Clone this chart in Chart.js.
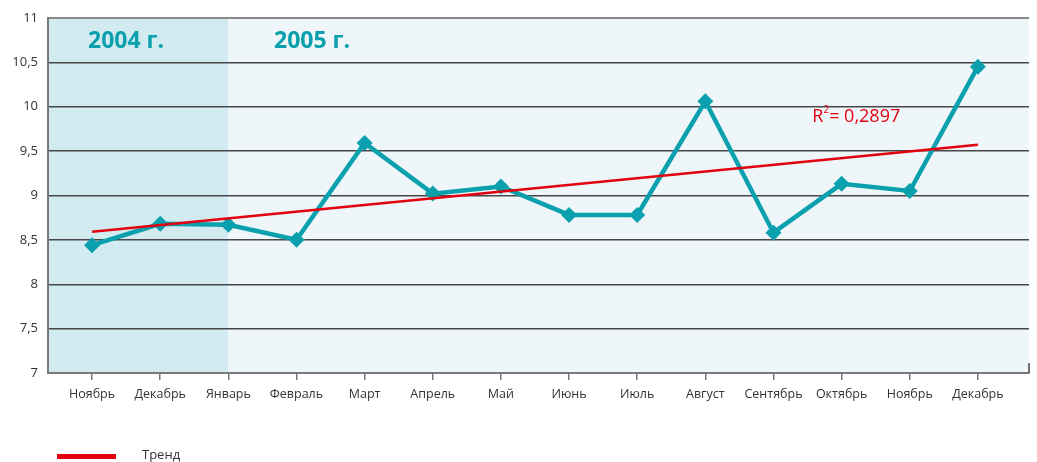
<!DOCTYPE html>
<html>
<head>
<meta charset="utf-8">
<script src="https://cdn.jsdelivr.net/npm/chart.js@4/dist/chart.umd.min.js"></script>
<style>
  html, body { margin: 0; padding: 0; background: #ffffff; }
  #wrap { width: 1037px; height: 462px; position: relative; }
</style>
</head>
<body>
<div id="wrap"><canvas id="c" width="1037" height="462"></canvas></div>
<script>
// Months from November 2004 to December 2005
const months = ['Ноябрь', 'Декабрь', 'Январь', 'Февраль', 'Март', 'Апрель', 'Май',
                'Июнь', 'Июль', 'Август', 'Сентябрь', 'Октябрь', 'Ноябрь', 'Декабрь'];
const values = [8.44, 8.68, 8.67, 8.50, 9.59, 9.02, 9.10, 8.78, 8.78, 10.06, 8.58, 9.13, 9.05, 10.45];
// Linear trend: values at first and last month
const trendEnds = [8.59, 9.57];
const trendLabel = '0,2897';
const yTicks = [7, 7.5, 8, 8.5, 9, 9.5, 10, 10.5, 11];
const yearLabels = ['2004 г.', '2005 г.'];
const yearSplitIndex = 2; // January 2005

const TEAL = '#0aa0ad';
const RED = '#e3000f';
const FONT = '"Open Sans", "DejaVu Sans", sans-serif';

const mainPoints = values.map((v, i) => ({ x: i, y: v }));
const trendPoints = [{ x: 0, y: trendEnds[0] }, { x: months.length - 1, y: trendEnds[1] }];

const decor = {
  id: 'decor',
  beforeDraw(chart) {
    const { ctx, chartArea: a, scales } = chart;
    const split = scales.x.getPixelForValue(yearSplitIndex);
    ctx.save();
    ctx.fillStyle = '#d2ebf1';
    ctx.fillRect(a.left, a.top, split - a.left, a.bottom - a.top);
    ctx.fillStyle = '#eef6fa';
    ctx.fillRect(split, a.top, a.right - split, a.bottom - a.top);
    ctx.restore();
  },
  afterDraw(chart) {
    const { ctx, chartArea: a, scales } = chart;
    ctx.save();
    // short mark at the right end of the category axis
    ctx.strokeStyle = '#444444';
    ctx.lineWidth = 1.5;
    ctx.beginPath();
    ctx.moveTo(a.right, a.bottom - 10);
    ctx.lineTo(a.right, a.bottom);
    ctx.stroke();

    // year captions
    ctx.fillStyle = TEAL;
    ctx.font = 'bold 23px ' + FONT;
    ctx.textBaseline = 'middle';
    ctx.textAlign = 'left';
    ctx.fillText(yearLabels[0], a.left + 40, a.top + 24);
    ctx.fillText(yearLabels[1], a.left + 226, a.top + 24);

    // R² caption
    const rx = scales.x.getPixelForValue(10.57);
    const ry = scales.y.getPixelForValue(9.9);
    ctx.fillStyle = RED;
    ctx.textBaseline = 'alphabetic';
    ctx.font = '18px ' + FONT;
    ctx.fillText('R', rx, ry + 7);
    const rw = ctx.measureText('R').width;
    ctx.font = '10px ' + FONT;
    ctx.fillText('2', rx + rw, ry - 2);
    const sw = ctx.measureText('2').width;
    ctx.font = '18px ' + FONT;
    ctx.fillText('= ' + trendLabel, rx + rw + sw, ry + 7);

    // legend
    ctx.fillStyle = RED;
    ctx.fillRect(57, 454, 59, 5);
    ctx.fillStyle = '#333333';
    ctx.font = '13px ' + FONT;
    ctx.textBaseline = 'middle';
    ctx.fillText('Тренд', 142, 455);
    ctx.restore();
  }
};

new Chart(document.getElementById('c'), {
  type: 'line',
  data: {
    datasets: [
      {
        label: 'Тренд',
        data: trendPoints,
        borderColor: RED,
        borderWidth: 2.5,
        pointRadius: 0,
        fill: false,
        order: 0
      },
      {
        label: 'Значение',
        data: mainPoints,
        borderColor: TEAL,
        backgroundColor: TEAL,
        borderWidth: 4.5,
        pointStyle: 'rectRot',
        pointRadius: 8,
        pointBorderWidth: 0,
        pointBackgroundColor: TEAL,
        tension: 0,
        fill: false,
        order: 1
      }
    ]
  },
  options: {
    responsive: false,
    animation: false,
    layout: { padding: { top: 16, right: 8, left: 0, bottom: 0 } },
    plugins: {
      legend: { display: false },
      tooltip: { enabled: false }
    },
    scales: {
      x: {
        type: 'linear',
        min: -0.647,
        max: 13.75,
        afterBuildTicks(scale) {
          scale.ticks = months.map((_, i) => ({ value: i }));
        },
        afterFit(scale) { scale.height = 89; },
        ticks: {
          autoSkip: false,
          maxRotation: 0,
          padding: 7,
          color: '#333333',
          font: { family: FONT, size: 12.5 },
          callback: (v) => months[v]
        },
        grid: {
          drawOnChartArea: false,
          drawTicks: true,
          tickLength: 7,
          color: '#777777',
          lineWidth: 1.5
        },
        border: { color: '#7a7a7a', width: 2 }
      },
      y: {
        min: 7,
        max: 11,
        afterBuildTicks(scale) {
          scale.ticks = yTicks.map(v => ({ value: v }));
        },
        afterFit(scale) { scale.width = 48; },
        ticks: {
          padding: 10,
          color: '#333333',
          font: { family: FONT, size: 13 },
          callback: (v) => String(v).replace('.', ',')
        },
        grid: {
          drawTicks: false,
          color: (c) => (c.tick && c.tick.value === 11) ? '#8a8a8a' : '#474747',
          lineWidth: (c) => (c.tick && c.tick.value === 11) ? 2 : 1.4
        },
        border: { color: '#7a7a7a', width: 2 }
      }
    }
  },
  plugins: [decor]
});
</script>
</body>
</html>
